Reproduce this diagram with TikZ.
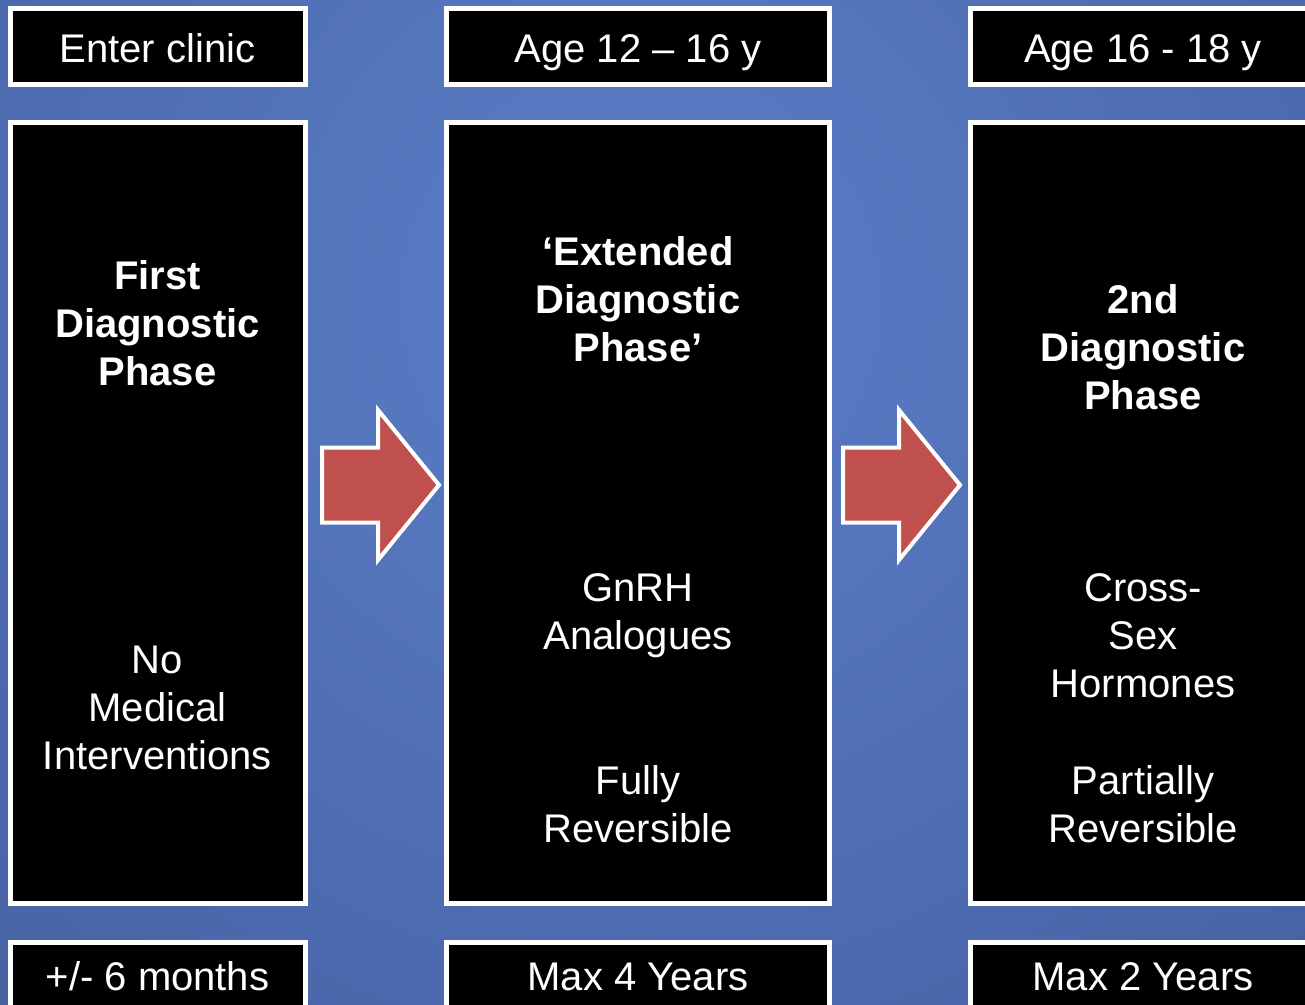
\documentclass[tikz,border=0pt]{standalone}
\usepackage{fontspec}
\setmainfont{Liberation Sans}
\definecolor{bginner}{HTML}{5C7EC9}
\definecolor{bgouter}{HTML}{2E447A}
\definecolor{arrowred}{HTML}{C0504D}

\begin{document}
\begin{tikzpicture}[x=1pt,y=-1pt,
  panel/.style={draw=white, line width=5pt, fill=black, inner sep=0pt},
  txt/.style={text=white, font=\fontsize{40}{48}\selectfont, align=center, inner sep=0pt},
  headbox/.style={panel, txt, minimum height=76pt, text height=31pt, text depth=0pt},
  footbox/.style={panel, txt, minimum height=70pt, text height=29pt, text depth=4pt},
  mainbox/.style={panel, minimum height=781pt},
  phase/.style={txt, font=\fontsize{40}{48}\selectfont\bfseries},
  arrowstyle/.style={draw=white, line width=4pt, fill=arrowred, line join=miter},
  pics/fwdarrow/.style={code={
    \draw[arrowstyle] (0,-37.5) -- (56,-37.5) -- (56,-75) -- (117,0)
      -- (56,75) -- (56,37.5) -- (0,37.5) -- cycle;}}
]
\useasboundingbox (0,0) rectangle (1305,1004);
\clip (0,0) rectangle (1305,1004);

% background
\shade[inner color=bginner, outer color=bgouter] (640,300) circle (2000);

% column 1
\node[headbox, minimum width=295pt] (h1) at (157.5,46.5) {Enter clinic};
\node[mainbox, minimum width=295pt] (m1) at (157.5,513) {};
\node[footbox, minimum width=295pt] (f1) at (157.5,977.5) {+/- 6 months};
\node[phase] (p1) at (157.5,323.5) {First\\Diagnostic\\Phase};
\node[txt] (t1) at (157.5,708) {No\\Medical\\Interventions};

% column 2
\node[headbox, minimum width=383pt] (h2) at (638,46.5) {Age 12 – 16 y};
\node[mainbox, minimum width=383pt] (m2) at (638,513) {};
\node[footbox, minimum width=383pt] (f2) at (638,977.5) {Max 4 Years};
\node[phase] (p2) at (638,299.5) {‘Extended\\Diagnostic\\Phase’};
\node[txt] (t2) at (638,615.7) {GnRH\\Analogues};
\node[txt] (r2) at (638,804) {Fully\\Reversible};

% column 3
\node[headbox, minimum width=345pt] (h3) at (1143,46.5) {Age 16 - 18 y};
\node[mainbox, minimum width=345pt] (m3) at (1143,513) {};
\node[footbox, minimum width=345pt] (f3) at (1143,977.5) {Max 2 Years};
\node[phase] (p3) at (1143,347.5) {2nd\\Diagnostic\\Phase};
\node[txt] (t3) at (1143,635.5) {Cross-\\Sex\\Hormones};
\node[txt] (r3) at (1143,804) {Partially\\Reversible};

% block arrows between the phases
\pic at (322,485) {fwdarrow};
\pic at (843,485) {fwdarrow};
\end{tikzpicture}
\end{document}
